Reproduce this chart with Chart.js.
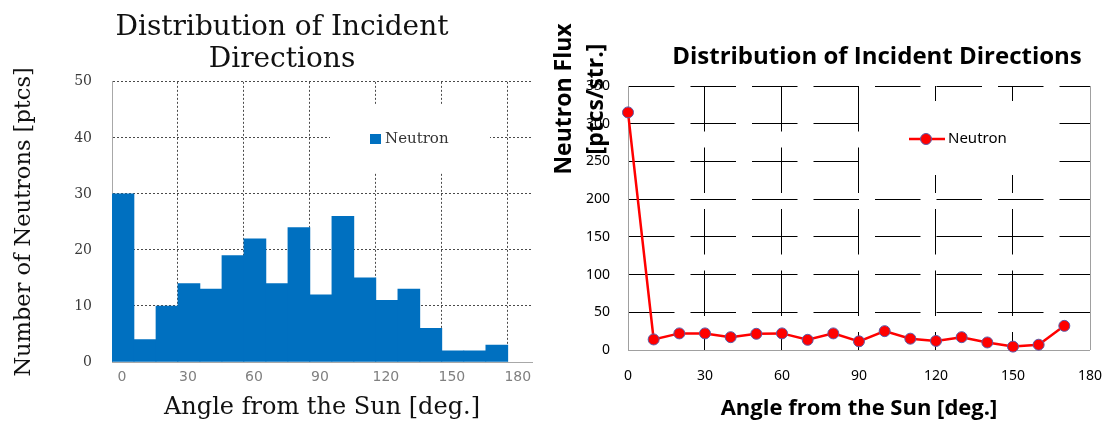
<!DOCTYPE html>
<html>
<head>
<meta charset="utf-8">
<title>Distribution of Incident Directions</title>
<script src="https://cdn.jsdelivr.net/npm/chart.js@4.4.1/dist/chart.umd.min.js"></script>
<style>
  html, body { margin: 0; padding: 0; background: #fff; width: 1120px; height: 422px; overflow: hidden; }
  .panel { position: absolute; top: 0; }
  #countPanel { left: 0; }
  #fluxPanel { left: 548px; }
</style>
</head>
<body>
<canvas id="countPanel" class="panel" width="564" height="422"></canvas>
<canvas id="fluxPanel" class="panel" width="572" height="422"></canvas>
<script>
// 10-degree bins of the angle between the incoming neutron and the Sun
const binCenters = [5, 15, 25, 35, 45, 55, 65, 75, 85, 95, 105, 115, 125, 135, 145, 155, 165, 175];
const binStarts  = [0, 10, 20, 30, 40, 50, 60, 70, 80, 90, 100, 110, 120, 130, 140, 150, 160, 170];

// Neutron counts per bin [ptcs]
const neutronCounts = [30, 4, 10, 14, 13, 19, 22, 14, 24, 12, 26, 15, 11, 13, 6, 2, 2, 3];

// Neutron flux per bin [ptcs/str.]
const neutronFlux = [315, 14, 22, 22, 17, 21.5, 22, 13.5, 22, 11.5, 25, 15, 12, 17, 10, 4.5, 7, 32];

// Tick values
const angleTicks = [0, 30, 60, 90, 120, 150, 180];
const countTicks = [0, 10, 20, 30, 40, 50];
const fluxTicks  = [0, 50, 100, 150, 200, 250, 300, 350];

// Labels
const seriesName   = 'Neutron';
const chartTitle   = 'Distribution of Incident Directions';
const angleLabel   = 'Angle from the Sun [deg.]';
const countLabel   = 'Number of Neutrons [ptcs]';
const fluxLabel    = ['Neutron Flux', '[ptcs/str.]'];

const CLEAR = 'rgba(0,0,0,0)';
const tickList = (values) => (scale) => { scale.ticks = values.map(v => ({ value: v })); };
const hideAt = (values, color) => (c) => (c.tick && values.includes(c.tick.value)) ? CLEAR : color;

// Legend drawn inside the plot, on a white patch over the grid
const inlineLegend = {
  id: 'inlineLegend',
  afterDatasetsDraw(chart, args, o) {
    const ctx = chart.ctx;
    const ds = chart.data.datasets[0];
    ctx.save();
    ctx.fillStyle = '#ffffff';
    ctx.fillRect(o.box.x, o.box.y, o.box.w, o.box.h);
    let textX;
    if (o.symbol === 'square') {
      ctx.fillStyle = ds.backgroundColor;
      ctx.fillRect(o.x, o.y - 5, 11, 10);
      textX = o.x + 15;
    } else {
      ctx.strokeStyle = ds.borderColor;
      ctx.lineWidth = ds.borderWidth;
      ctx.beginPath();
      ctx.moveTo(o.x, o.y);
      ctx.lineTo(o.x + 36, o.y);
      ctx.stroke();
      ctx.beginPath();
      ctx.arc(o.x + 17, o.y, ds.pointRadius, 0, Math.PI * 2);
      ctx.fillStyle = ds.pointBackgroundColor;
      ctx.fill();
      ctx.lineWidth = ds.pointBorderWidth;
      ctx.strokeStyle = ds.pointBorderColor;
      ctx.stroke();
      textX = o.x + 39;
    }
    ctx.fillStyle = o.color;
    ctx.font = o.font;
    ctx.textAlign = 'left';
    ctx.textBaseline = 'middle';
    ctx.fillText(ds.label, textX, o.y);
    ctx.restore();
  }
};

// Plot frame edge on the right, title and two-line rotated axis caption
const fluxDecor = {
  id: 'fluxDecor',
  beforeDatasetsDraw(chart) {
    const { ctx, chartArea: a } = chart;
    ctx.save();
    ctx.strokeStyle = '#a0a0a0';
    ctx.lineWidth = 1;
    ctx.beginPath();
    ctx.moveTo(Math.round(a.right) + 0.5, a.top);
    ctx.lineTo(Math.round(a.right) + 0.5, a.bottom);
    ctx.stroke();
    ctx.restore();
  },
  afterDraw(chart, args, o) {
    const ctx = chart.ctx;
    ctx.save();
    ctx.fillStyle = '#000';
    ctx.font = 'bold 24px "Open Sans"';
    ctx.textAlign = 'center';
    ctx.textBaseline = 'alphabetic';
    ctx.fillText(chartTitle, o.titleX, o.titleBaseline);
    ctx.font = 'bold 23px "Open Sans"';
    ctx.textBaseline = 'middle';
    fluxLabel.forEach((line, i) => {
      ctx.save();
      ctx.translate(o.captionX[i], o.captionY);
      ctx.rotate(-Math.PI / 2);
      ctx.fillText(line, 0, 0);
      ctx.restore();
    });
    ctx.restore();
  }
};

// Left panel: histogram of counts
new Chart(document.getElementById('countPanel'), {
  type: 'bar',
  data: {
    datasets: [{
      label: seriesName,
      data: binCenters.map((x, i) => ({ x, y: neutronCounts[i] })),
      backgroundColor: '#0070C0',
      borderWidth: 0,
      barPercentage: 1,
      categoryPercentage: 1
    }]
  },
  options: {
    responsive: false,
    animation: false,
    layout: { padding: 0 },
    plugins: {
      legend: { display: false },
      tooltip: { enabled: false },
      title: {
        display: true,
        text: ['Distribution of Incident', 'Directions'],
        color: '#111',
        font: { family: 'DejaVu Serif', size: 28, weight: 'normal', lineHeight: 1.14 },
        padding: { top: 12, bottom: 6 }
      },
      inlineLegend: {
        box: { x: 330, y: 105, w: 160, h: 67 },
        symbol: 'square', x: 370, y: 139,
        font: '15px "DejaVu Serif"', color: '#333'
      }
    },
    scales: {
      x: {
        type: 'linear', min: 0, max: 191, offset: false,
        afterBuildTicks: tickList(angleTicks),
        ticks: { labelOffset: 10, padding: 7, color: '#808080', maxRotation: 0, autoSkip: false,
                 font: { family: 'DejaVu Sans', size: 14 } },
        grid: { offset: false, drawTicks: false, lineWidth: 1, color: hideAt([0], '#4a4a4a') },
        border: { display: true, color: '#a8a8a8', dash: [2, 2] },
        title: { display: true, text: angleLabel, color: '#111',
                 font: { family: 'DejaVu Serif', size: 24, lineHeight: 1.15 },
                 padding: { top: 0, bottom: 0 } },
        afterFit: (s) => { s.height = 60; }
      },
      y: {
        min: 0, max: 50,
        afterBuildTicks: tickList(countTicks),
        ticks: { padding: 20, color: '#3a3a3a', font: { family: 'DejaVu Serif', size: 14 } },
        grid: { drawTicks: false, lineWidth: 1, color: hideAt([0], '#4a4a4a') },
        border: { display: true, color: '#a8a8a8', dash: [2, 2] },
        title: { display: true, text: countLabel, color: '#111',
                 font: { family: 'DejaVu Serif', size: 22.5, lineHeight: 1.2 },
                 padding: { top: 11, bottom: 0 } },
        afterFit: (s) => { s.width = 112; }
      },
      // empty margin on the right of the plot
      gutter: {
        position: 'right', display: true,
        grid: { display: false }, border: { display: false }, ticks: { display: false },
        afterFit: (s) => { s.width = 32; }
      }
    }
  },
  plugins: [inlineLegend]
});

// Right panel: flux per steradian
new Chart(document.getElementById('fluxPanel'), {
  type: 'line',
  data: {
    datasets: [{
      label: seriesName,
      data: binStarts.map((x, i) => ({ x, y: neutronFlux[i] })),
      borderColor: '#ff0000',
      backgroundColor: '#ff0000',
      borderWidth: 2.5,
      pointRadius: 5.5,
      pointBackgroundColor: '#ff0000',
      pointBorderColor: '#5b5ba8',
      pointBorderWidth: 1,
      tension: 0,
      fill: false,
      clip: false
    }]
  },
  options: {
    responsive: false,
    animation: false,
    layout: { padding: { top: 86, right: 17, left: 0, bottom: 0 } },
    plugins: {
      legend: { display: false },
      tooltip: { enabled: false },
      title: { display: false },
      inlineLegend: {
        box: { x: 320, y: 101, w: 190, h: 74 },
        symbol: 'line', x: 361, y: 139,
        font: '15px "Noto Sans"', color: '#000'
      },
      fluxDecor: { titleX: 329, titleBaseline: 64, captionX: [16, 48], captionY: 99 }
    },
    scales: {
      x: {
        type: 'linear', min: 0, max: 180,
        afterBuildTicks: tickList(angleTicks),
        ticks: { padding: 18, color: '#000', maxRotation: 0, autoSkip: false,
                 font: { family: 'Noto Sans', size: 14 } },
        grid: { drawTicks: false, lineWidth: 1, color: hideAt([0, 180], '#000') },
        border: { display: true, color: '#a0a0a0', dash: [45.5, 16] },
        title: { display: true, text: angleLabel, color: '#000',
                 font: { family: 'Open Sans', weight: 'bold', size: 22, lineHeight: 1.2 },
                 padding: { top: 0, bottom: 0 } },
        afterFit: (s) => { s.height = 72; }
      },
      y: {
        min: 0, max: 350,
        afterBuildTicks: tickList(fluxTicks),
        ticks: { padding: 18, color: '#000', font: { family: 'Noto Sans', size: 14 } },
        grid: { drawTicks: false, lineWidth: 1, color: hideAt([0], '#000') },
        border: { display: true, color: '#a0a0a0', dash: [45.5, 16] },
        afterFit: (s) => { s.width = 80; }
      }
    }
  },
  plugins: [inlineLegend, fluxDecor]
});
</script>
</body>
</html>
